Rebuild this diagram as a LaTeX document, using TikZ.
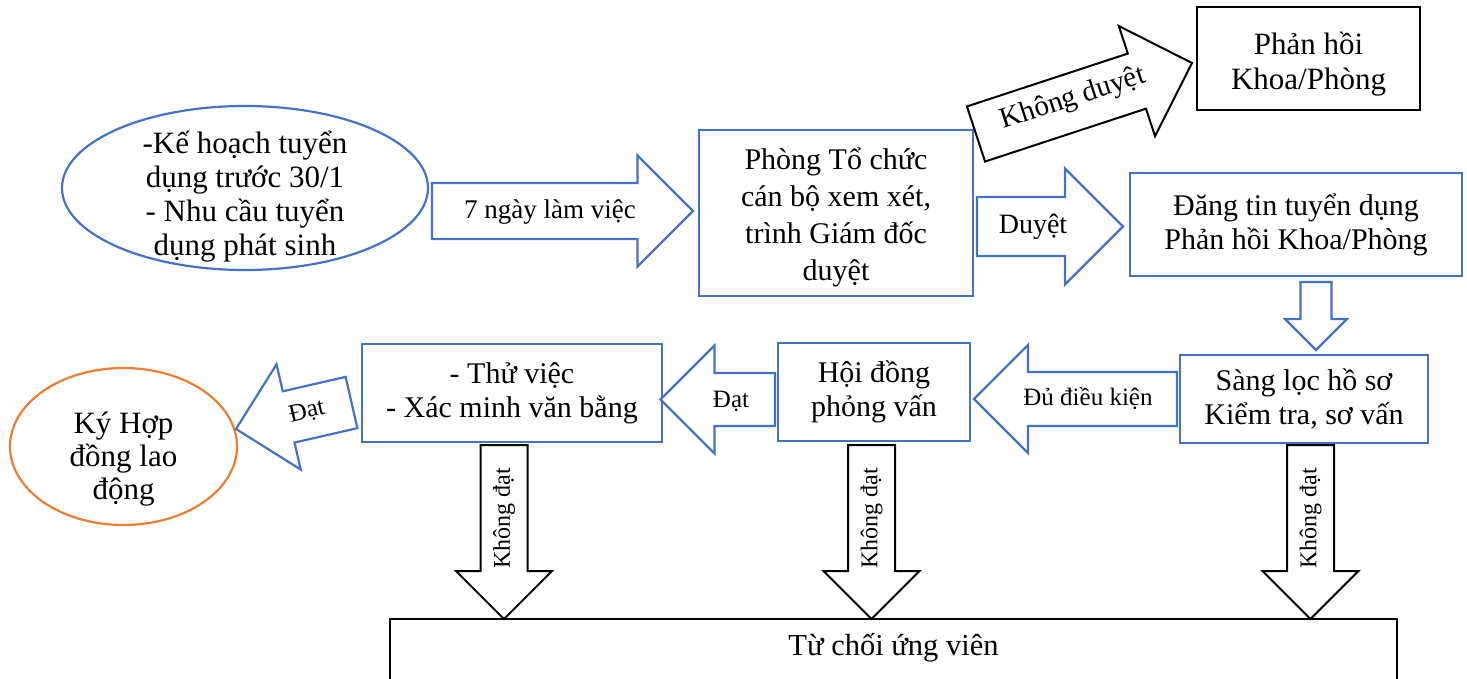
\documentclass[tikz,border=0pt]{standalone}
\usepackage{fontspec}
\setmainfont{Liberation Serif}
\usetikzlibrary{calc, shapes.geometric}
\definecolor{ofcblue}{HTML}{4472C4}
\definecolor{ofcorange}{HTML}{ED7D31}

% block arrow: [style]{tail}{tip}{half shaft}{half head}
\newcommand{\blkarrow}[5][]{%
	\path ($(#3)!#5!(#2)$) coordinate (hb);
	\draw[#1] ($(#2)!#4!90:(#3)$) -- ($(hb)!#4!90:(#3)$) -- ($(hb)!#5!90:(#3)$) -- (#3)
	-- ($(hb)!#5!-90:(#3)$) -- ($(hb)!#4!-90:(#3)$) -- ($(#2)!#4!-90:(#3)$) -- cycle;
}

\tikzset{
	bluebox/.style={draw=ofcblue, line width=2.2pt, align=center, font=\fontsize{30}{34}\selectfont},
	blackbox/.style={draw=black, line width=2pt, align=center, font=\fontsize{30}{34}\selectfont},
	boxtxt/.style={align=center, font=\fontsize{31}{34}\selectfont},
	bluearr/.style={draw=ofcblue, fill=white, line width=2.2pt, line join=miter},
	blackarr/.style={draw=black, fill=white, line width=2pt, line join=miter},
	arrtxt/.style={font=\fontsize{25}{29}\selectfont}
}

\begin{document}
\begin{tikzpicture}[x=1pt, y=-1pt]
	\useasboundingbox (0,0) rectangle (1467,679);
	
	% hop
	\node (plan) [bluebox, ellipse, minimum width=366, minimum height=164, inner sep=0pt] at (245,188) {};
	\node (plantxt) [boxtxt] at ($(plan.center)+(0,9)$)
	{-Kế hoạch tuyển\\dụng trước 30/1\\- Nhu cầu tuyển\\dụng phát sinh};
	\node (ptc) [bluebox, minimum width=274, minimum height=166] at (836,213) {};
	\node (ptctxt) [boxtxt, font=\fontsize{30}{37}\selectfont] at ($(ptc.center)+(0,4)$)
	{Phòng Tổ chức\\cán bộ xem xét,\\trình Giám đốc\\duyệt};
	\node (dangtin) [bluebox, minimum width=332, minimum height=103] at (1296,224.5)
	{Đăng tin tuyển dụng\\Phản hồi Khoa/Phòng};
	\node (phanhoi) [blackbox, minimum width=223, minimum height=103] at (1308.5,58.5) {};
	\node (phanhoitxt) [boxtxt, font=\fontsize{31}{35}\selectfont] at ($(phanhoi.center)+(0,6)$)
	{Phản hồi\\Khoa/Phòng};
	\node (sangloc) [bluebox, minimum width=248, minimum height=88] at (1304,399)
	{Sàng lọc hồ sơ\\Kiểm tra, sơ vấn};
	\node (hoidong) [bluebox, minimum width=192, minimum height=98] at (874,392)
	{Hội đồng\\phỏng vấn};
	\node (thuviec) [bluebox, minimum width=300, minimum height=98] at (512,393)
	{- Thử việc\\- Xác minh văn bằng};
	\node (kyhd) [bluebox, draw=ofcorange, ellipse, minimum width=227, minimum height=157, inner sep=0pt] at (123.5,446.5) {};
	\node (kyhdtxt) [boxtxt, font=\fontsize{31}{33}\selectfont] at ($(kyhd.center)+(0,13)$)
	{Ký Hợp\\đồng lao\\động};
	\node (tuchoi) [blackbox, minimum width=1007, minimum height=100, anchor=north] at (893.5,618) {};
	\node (tuchoitxt) [font=\fontsize{30.5}{34}\selectfont] at (893.5,648) {Từ chối ứng viên};
	
	% mui ten
	\coordinate (a1s) at (432,211);
	\coordinate (a1e) at (693,211);
	\coordinate (a2s) at (977,226.5);
	\coordinate (a2e) at (1123,226.5);
	\coordinate (a3s) at (976,134);
	\coordinate (a3e) at (1192,63);
	\coordinate (a4s) at (1316,282);
	\coordinate (a4e) at (1316,350);
	\coordinate (a5s) at (1177,399);
	\coordinate (a5e) at (974,399);
	\coordinate (a6s) at (775,399.5);
	\coordinate (a6e) at (660.5,399.5);
	\coordinate (a7s) at (351.5,402.5);
	\coordinate (a7e) at (236,429);
	
	\blkarrow[bluearr]{a1s}{a1e}{28pt}{55.5pt}
	\blkarrow[bluearr]{a2s}{a2e}{29.5pt}{58pt}
	\blkarrow[blackarr]{a3s}{a3e}{29pt}{58pt}
	\blkarrow[bluearr]{a4s}{a4e}{15.5pt}{31pt}
	\blkarrow[bluearr]{a5s}{a5e}{27pt}{54pt}
	\blkarrow[bluearr]{a6s}{a6e}{26.5pt}{54pt}
	\blkarrow[bluearr]{a7s}{a7e}{26.3pt}{54pt}
	
	\node (t1) [arrtxt, font=\fontsize{27}{30}\selectfont] at (550,212) {7 ngày làm việc};
	\node (t2) [arrtxt, font=\fontsize{28}{30}\selectfont] at (1033,227) {Duyệt};
	\node (t3) [arrtxt, font=\fontsize{29}{30}\selectfont, rotate=18] at (1073,99) {Không duyệt};
	\node (t5) [arrtxt] at (1088,399) {Đủ điều kiện};
	\node (t6) [arrtxt] at (731,401) {Đạt};
	\node (t7) [arrtxt, rotate=13] at (307,412) {Đạt};
	
	% khong dat
	\foreach \x/\n in {504/kd1, 871.5/kd2, 1310.5/kd3}{
		\coordinate (\n s) at (\x,445);
		\coordinate (\n e) at (\x,619);
		\blkarrow[blackarr]{\n s}{\n e}{23.5pt}{48pt}
		\node (\n t) [arrtxt, font=\fontsize{24}{28}\selectfont, rotate=90] at (\x,518) {Không đạt};
	}
\end{tikzpicture}
\end{document}
